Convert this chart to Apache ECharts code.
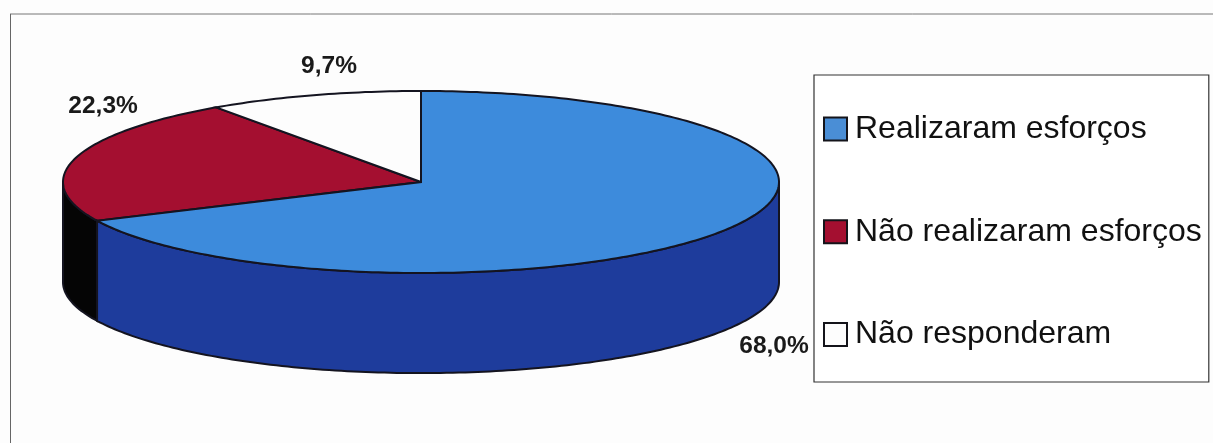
<!DOCTYPE html>
<html>
<head>
<meta charset="utf-8">
<style>html,body{margin:0;padding:0;background:#fdfdfd}#c{width:1213px;height:443px}</style>
<script src="https://cdn.jsdelivr.net/npm/echarts@6/dist/echarts.min.js"></script>
</head>
<body>
<div id="c"></div>
<script>
var categories = ['Realizaram esforços', 'Não realizaram esforços', 'Não responderam'];
var values = [68.0, 22.3, 9.7];
var valueLabels = ['68,0%', '22,3%', '9,7%'];

var topColors = ['#3d8bdc', '#a40f30', '#fdfdfd'];
var sideColors = ['#1e3c9c', '#050505', '#d0d0d0'];
var legendColors = ['#4a8ed6', '#a40f30', '#fdfdfd'];
// label anchors, in the hidden pie axes' units
var labelAnchors = [[0.986, -1.80], [-0.888, 0.835], [-0.257, 1.275]];
var DEPTH = 1.1;
var OUTLINE = '#141420';

var total = values.reduce(function (a, b) { return a + b; }, 0);
var starts = [];
values.reduce(function (acc, v, i) { starts[i] = acc; return acc + v; }, 0);

function rimPoint(api, deg, drop) {
  var r = deg * Math.PI / 180;
  return api.coord([Math.sin(r), Math.cos(r) - drop]);
}
function arc(api, a, b, drop) {
  var pts = [], n = Math.max(2, Math.ceil(Math.abs(b - a)));
  for (var i = 0; i <= n; i++) pts.push(rimPoint(api, a + (b - a) * i / n, drop));
  return pts;
}

function makeRender(idx) {
  return function (params, api) {
    var a = api.value(0) / total * 360;
    var b = (api.value(0) + api.value(1)) / total * 360;
    var children = [];
    var sa = Math.max(a, 90), sb = Math.min(b, 270);
    if (sb > sa) {
      children.push({
        type: 'polygon',
        shape: { points: arc(api, sa, sb, 0).concat(arc(api, sb, sa, DEPTH)) },
        style: { fill: sideColors[idx], stroke: OUTLINE, lineWidth: 2 }
      });
    }
    children.push({
      type: 'polygon',
      shape: { points: [api.coord([0, 0])].concat(arc(api, a, b, 0)) },
      style: { fill: topColors[idx], stroke: OUTLINE, lineWidth: 2 }
    });
    var p = api.coord(labelAnchors[idx]);
    children.push({
      type: 'text',
      style: {
        x: p[0], y: p[1], text: valueLabels[idx], align: 'center', verticalAlign: 'middle',
        fill: '#1a1a1a', font: 'bold 24.5px "Liberation Sans", Arial, sans-serif'
      }
    });
    return { type: 'group', children: children };
  };
}

var series = categories.map(function (name, i) {
  return {
    type: 'custom',
    name: name,
    clip: false,
    silent: true,
    encode: { x: 0, y: 1 },
    itemStyle: { color: legendColors[i], borderColor: '#14141a', borderWidth: 2 },
    renderItem: makeRender(i),
    data: [[starts[i], values[i]]],
    z: i === 0 ? 3 : 2
  };
});

var chart = echarts.init(document.getElementById('c'), null, { renderer: 'canvas' });
chart.setOption({
  animation: false,
  backgroundColor: '#fdfdfd',
  grid: { left: 63, top: 91, width: 716, height: 182 },
  xAxis: { type: 'value', min: -1, max: 1, show: false },
  yAxis: { type: 'value', min: -1, max: 1, show: false },
  legend: {
    orient: 'vertical',
    left: 814,
    top: 75,
    padding: [38, 7, 31.6, 9],
    itemGap: 70.7,
    itemWidth: 23,
    itemHeight: 23,
    itemStyle: {},
    icon: 'rect',
    selectedMode: false,
    borderColor: '#333',
    borderWidth: 1.2,
    backgroundColor: '#fff',
    textStyle: { fontFamily: '"Liberation Sans", Arial, sans-serif', fontSize: 32, color: '#111', lineHeight: 32, padding: [0, 0, 0, 3] },
    data: categories
  },
  graphic: [
    { type: 'line', shape: { x1: 10, y1: 14, x2: 1213, y2: 14 }, style: { stroke: '#777', lineWidth: 1 } },
    { type: 'line', shape: { x1: 10.5, y1: 14, x2: 10.5, y2: 443 }, style: { stroke: '#666', lineWidth: 1 } }
  ],
  series: series
});
</script>
</body>
</html>
